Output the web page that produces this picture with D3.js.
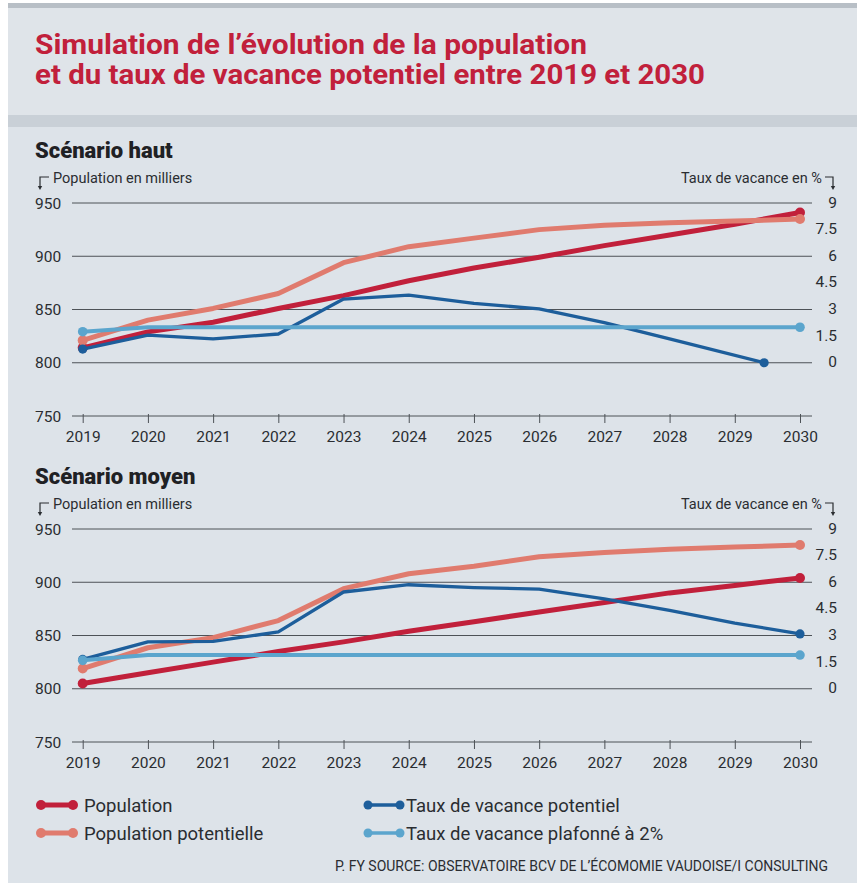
<!DOCTYPE html>
<html>
<head>
<meta charset="utf-8">
<script src="https://cdn.jsdelivr.net/npm/d3@7"></script>
<style>
  html, body { margin: 0; padding: 0; background: #ffffff; }
  svg { display: block; }
  text { font-family: Roboto, "Open Sans", "DejaVu Sans", sans-serif; }
</style>
</head>
<body>
<svg id="chart" width="857" height="885"></svg>
<script>
// ---------- DATA ----------
const years = [2019, 2020, 2021, 2022, 2023, 2024, 2025, 2026, 2027, 2028, 2029, 2030];
const popTicks = [750, 800, 850, 900, 950];
const rateTicks = [0, 1.5, 3, 4.5, 6, 7.5, 9];

// Scénario haut
const hautPopulation = [814, 829, 838, 851, 863, 877, 889, 899, 910, 920, 930, 941];
const hautPopPotentielle = [821, 840, 851, 865, 894, 909, 917, 925, 929, 931.5, 933, 935];
const hautVacanceYears = [2019, 2020, 2021, 2022, 2023, 2024, 2025, 2026, 2027, 2028, 2029.45];
const hautVacance = [0.77, 1.56, 1.34, 1.62, 3.59, 3.81, 3.35, 3.03, 2.26, 1.34, 0];
const hautPlafond = [1.75, 2, 2, 2, 2, 2, 2, 2, 2, 2, 2, 2];

// Scénario moyen
const moyenPopulation = [805, 815, 825, 835, 844, 854, 863, 872, 881, 890, 897, 904];
const moyenPopPotentielle = [819, 838.5, 848, 864, 894, 908, 915, 924, 928, 931, 933, 935];
const moyenVacance = [1.65, 2.64, 2.67, 3.2, 5.45, 5.86, 5.7, 5.61, 5.07, 4.41, 3.7, 3.09];
const moyenPlafond = [1.6, 1.9, 1.9, 1.9, 1.9, 1.9, 1.9, 1.9, 1.9, 1.9, 1.9, 1.9];

const legendItems = ["Population", "Population potentielle", "Taux de vacance potentiel", "Taux de vacance plafonné à 2%"];

// ---------- STYLE ----------
const C = {
  red: "#c1203b",
  salmon: "#e07b6e",
  dark: "#1d5e9b",
  light: "#5ba5cd",
  bg: "#dde3e9",
  grid: "#4d5257",
  text: "#2a2d31"
};

const svg = d3.select("#chart");

// backgrounds
svg.append("rect").attr("x", 0).attr("y", 0).attr("width", 857).attr("height", 885).attr("fill", "#ffffff");
svg.append("rect").attr("x", 8).attr("y", 3).attr("width", 849).attr("height", 880).attr("fill", C.bg);
svg.append("rect").attr("x", 8).attr("y", 3).attr("width", 849).attr("height", 5).attr("fill", "#b8bfc6");
svg.append("rect").attr("x", 8).attr("y", 8).attr("width", 849).attr("height", 107).attr("fill", "#dfe4e9");
svg.append("rect").attr("x", 8).attr("y", 115).attr("width", 849).attr("height", 12).attr("fill", "#c9d0d7");

// title
const titleLines = ["Simulation de l\u2019évolution de la population", "et du taux de vacance potentiel entre 2019 et 2030"];
const titleLens = [552, 670];
const titleY = [54, 84];
titleLines.forEach((t, i) => {
  svg.append("text")
    .attr("x", 35).attr("y", titleY[i])
    .attr("fill", C.red)
    .attr("font-size", 28).attr("font-weight", 700)
    .attr("textLength", titleLens[i]).attr("lengthAdjust", "spacingAndGlyphs")
    .text(t);
});

const x = d3.scaleLinear().domain([2019, 2030]).range([82.7, 800]);

function panel(cfg) {
  const g = svg.append("g");
  const yPop = d3.scaleLinear().domain([750, 950]).range([cfg.bottom, cfg.top]);
  const yRate = d3.scaleLinear().domain([-3, 9]).range([cfg.bottom, cfg.top]);

  // scenario title
  g.append("text").attr("x", 35).attr("y", cfg.top - 45)
    .attr("font-size", 22).attr("font-weight", 900).attr("fill", "#1f2124")
    .text(cfg.title);

  // axis headers
  g.append("text").attr("x", 53).attr("y", cfg.top - 20)
    .attr("font-size", 14.5).attr("fill", C.text).text("Population en milliers");
  g.append("path")
    .attr("d", `M49,${cfg.top - 26} H40 V${cfg.top - 15}`)
    .attr("fill", "none").attr("stroke", C.text).attr("stroke-width", 1.2);
  g.append("path")
    .attr("d", `M37.8,${cfg.top - 17} L40,${cfg.top - 13} L42.2,${cfg.top - 17} Z`)
    .attr("fill", C.text);

  g.append("text").attr("x", 822).attr("y", cfg.top - 20).attr("text-anchor", "end")
    .attr("font-size", 14.5).attr("fill", C.text).text("Taux de vacance en %");
  g.append("path")
    .attr("d", `M825,${cfg.top - 26} H833 V${cfg.top - 15}`)
    .attr("fill", "none").attr("stroke", C.text).attr("stroke-width", 1.2);
  g.append("path")
    .attr("d", `M830.8,${cfg.top - 17} L833,${cfg.top - 13} L835.2,${cfg.top - 17} Z`)
    .attr("fill", C.text);

  // grid lines (left axis ticks except baseline)
  g.selectAll(".grid").data(popTicks.filter(d => d !== 750)).join("line")
    .attr("x1", 72).attr("x2", 812)
    .attr("y1", d => yPop(d)).attr("y2", d => yPop(d))
    .attr("stroke", C.grid).attr("stroke-width", 1);

  // left axis labels
  g.selectAll(".ylab").data(popTicks).join("text")
    .attr("x", 35).attr("y", d => yPop(d) + 5.5)
    .attr("font-size", 15.5).attr("fill", C.text)
    .text(d => d);

  // right axis labels
  g.selectAll(".rlab").data(rateTicks).join("text")
    .attr("x", 837).attr("y", d => yRate(d) + 4.5).attr("text-anchor", "end")
    .attr("font-size", 15.5).attr("fill", C.text)
    .text(d => d);

  // x axis
  const xAxis = d3.axisBottom(x).tickValues(years).tickFormat(d3.format("d")).tickSize(7).tickPadding(8).tickSizeOuter(0);
  const ax = g.append("g").attr("transform", `translate(0,${cfg.bottom})`).call(xAxis);
  ax.select(".domain").remove();
  ax.append("line").attr("x1", 72).attr("x2", 812).attr("y1", 0).attr("y2", 0)
    .attr("stroke", C.grid).attr("stroke-width", 1);
  ax.selectAll(".tick line").attr("stroke", C.grid).attr("y1", -2);
  ax.selectAll(".tick text").attr("font-size", 15.5).attr("fill", C.text)
    .attr("font-family", "Roboto, sans-serif");

  // series
  const series = [
    { xs: years, ys: cfg.pop, scale: yPop, color: C.red, w: 5, r: 5 },
    { xs: years, ys: cfg.popPot, scale: yPop, color: C.salmon, w: 5, r: 5 },
    { xs: cfg.vacYears, ys: cfg.vac, scale: yRate, color: C.dark, w: 3.3, r: 4.6 },
    { xs: years, ys: cfg.plaf, scale: yRate, color: C.light, w: 4, r: 4.8 }
  ];
  series.forEach(s => {
    const pts = s.xs.map((xv, i) => [x(xv), s.scale(s.ys[i])]);
    g.append("path")
      .attr("d", d3.line().curve(d3.curveLinear)(pts))
      .attr("fill", "none").attr("stroke", s.color).attr("stroke-width", s.w)
      .attr("stroke-linejoin", "round").attr("stroke-linecap", "round");
    g.selectAll(null).data([pts[0], pts[pts.length - 1]]).join("circle")
      .attr("cx", d => d[0]).attr("cy", d => d[1]).attr("r", s.r).attr("fill", s.color);
  });
}

panel({
  title: "Scénario haut", top: 203, bottom: 416,
  pop: hautPopulation, popPot: hautPopPotentielle,
  vacYears: hautVacanceYears, vac: hautVacance, plaf: hautPlafond
});
panel({
  title: "Scénario moyen", top: 529, bottom: 742,
  pop: moyenPopulation, popPot: moyenPopPotentielle,
  vacYears: years, vac: moyenVacance, plaf: moyenPlafond
});

// legend
const legColors = [C.red, C.salmon, C.dark, C.light];
const legW = [5, 5, 3.5, 3.5];
const legX = [36, 36, 363, 363];
const legY = [805, 833, 805, 833];
legendItems.forEach((t, i) => {
  const lg = svg.append("g");
  lg.append("line").attr("x1", legX[i] + 4).attr("x2", legX[i] + 37)
    .attr("y1", legY[i]).attr("y2", legY[i])
    .attr("stroke", legColors[i]).attr("stroke-width", legW[i]);
  [legX[i] + 5, legX[i] + 37].forEach(cx => {
    lg.append("circle").attr("cx", cx).attr("cy", legY[i]).attr("r", i < 2 ? 5 : 4.5).attr("fill", legColors[i]);
  });
  lg.append("text").attr("x", legX[i] + (i < 2 ? 48 : 43)).attr("y", legY[i] + 6.5)
    .attr("font-size", 18.5).attr("fill", C.text).text(t);
});

// source
svg.append("text").attr("x", 335).attr("y", 870.5)
  .attr("font-size", 14.5).attr("fill", C.text)
  .attr("textLength", 493).attr("lengthAdjust", "spacingAndGlyphs")
  .text("P. FY SOURCE: OBSERVATOIRE BCV DE L\u2019ÉCOMOMIE VAUDOISE/I CONSULTING");
</script>
</body>
</html>
